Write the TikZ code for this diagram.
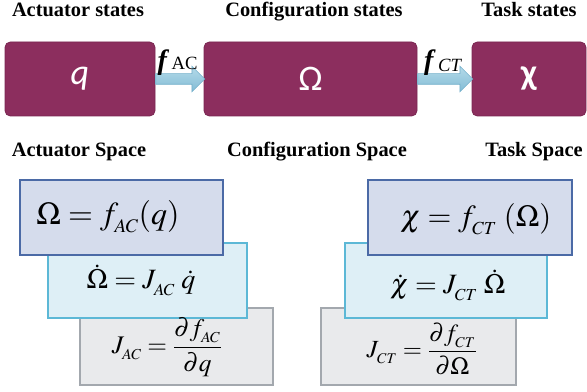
\documentclass[tikz,border=0pt]{standalone}
\usepackage{amsmath}
\usepackage{mathptmx}
\usepackage[no-math]{fontspec}
\setmainfont{Liberation Serif}
\newfontfamily\headfont{Liberation Serif}
\newfontfamily\boxfont{Carlito}
\usetikzlibrary{positioning,calc,shapes.arrows}
\definecolor{StateFill}{HTML}{8C2E5E}
\definecolor{StateEdge}{HTML}{7A2651}
\definecolor{MapTop}{HTML}{B5DAE9}
\definecolor{MapBottom}{HTML}{82BCD5}
\definecolor{MapEdge}{HTML}{74B0CB}
\definecolor{PosFill}{HTML}{D5DCEC}
\definecolor{PosEdge}{HTML}{4B6AA6}
\definecolor{VelFill}{HTML}{DEEFF6}
\definecolor{VelEdge}{HTML}{5CB8D6}
\definecolor{JacFill}{HTML}{E9EAEC}
\definecolor{JacEdge}{HTML}{A3A8AE}
% small lowered subscript, as the equation editor sets it
\newcommand{\lsub}[1]{_{\lower0.1em\hbox{$\scriptscriptstyle #1$}}}
\begin{document}
\begin{tikzpicture}[x=0.75pt, y=-0.75pt,
  state/.style={draw=StateEdge, fill=StateFill, line width=0.6pt, rounded corners=4pt, minimum height=55.5pt, text=white, font=\boxfont\fontsize{27}{30}\selectfont},
  head/.style={font=\headfont\bfseries\fontsize{15.3}{17}\selectfont, inner sep=0pt, anchor=base},
  map/.style={single arrow, draw=MapEdge, top color=MapTop, bottom color=MapBottom, line width=0.5pt, minimum height=#1, inner xsep=0pt, inner ysep=3.75pt, single arrow head extend=5.6pt, anchor=tail},
  maplabel/.style={font=\headfont\fontsize{21}{21}\selectfont, label distance=-5pt},
  eqbox/.style={draw=#1Edge, fill=#1Fill, line width=1.1pt},
  eqtext/.style={inner sep=0pt, font=\fontsize{#1}{#1}\selectfont},
]
\useasboundingbox (0,0) rectangle (587,392);
% state boxes
\node[state, minimum width=112.5pt] (q) at (80,79) {\itshape q};
\node[state, minimum width=159.75pt] (om) at (310.5,79) {Ω};
\node[state, minimum width=85.5pt] (chi) at (529,79) {\bfseries χ};
\node[map=36.75pt, label={[maplabel]above:{{\bfseries\itshape f}\,{\fontsize{14}{14}\selectfont AC}}}] (fac) at (q.east) {};
\node[map=41.25pt, label={[maplabel]above:{{\bfseries\itshape f}\,\raisebox{-2pt}{\fontsize{14}{14}\selectfont\itshape CT}}}] (fct) at (om.east) {};
% headings
\node[head] (hq) at (78,17) {Actuator states};
\node[head] (hom) at (314,17) {Configuration states};
\node[head] (hchi) at (529,17) {Task states};
\node[head] (sq) at (79,157) {Actuator Space};
\node[head] (som) at (317,157) {Configuration Space};
\node[head] (schi) at (534,157) {Task Space};
% actuator to configuration
\node[eqbox=Jac, minimum width=144.75pt, minimum height=57.75pt] (ajac) at (176.5,346.5) {};
\node[eqbox=Vel, minimum width=149.25pt, minimum height=56.25pt] (avel) at (147.5,280.5) {};
\node[eqbox=Pos, minimum width=152.25pt, minimum height=56.25pt] (apos) at (121.5,217.5) {};
\node[eqtext=24, anchor=base] (aposeq) at (108,225) {$\Omega = f\lsub{AC}(q)$};
\node[eqtext=21, anchor=base] (avelq) at (141,289) {$\dot{\Omega} = J\lsub{AC}\;\dot{q}$};
\node[eqtext=19] (ajaceq) at (167,347) {$J\lsub{AC} = \dfrac{\partial f\lsub{AC}}{\partial q}$};
% configuration to task
\node[eqbox=Jac, minimum width=146.25pt, minimum height=57.75pt] (bjac) at (418.5,346.5) {};
\node[eqbox=Vel, minimum width=151.5pt, minimum height=56.25pt] (bvel) at (446,280.5) {};
\node[eqbox=Pos, minimum width=153pt, minimum height=56.25pt] (bpos) at (470,217.5) {};
\node[eqtext=23, anchor=base] (bposeq) at (476,227) {$\chi = f\lsub{CT}\;(\Omega)$};
\node[eqtext=21, anchor=base] (bveleq) at (448,294) {$\dot{\chi} = J\lsub{CT}\;\dot{\Omega}$};
\node[eqtext=18.5] (bjaceq) at (422,349) {$J\lsub{CT} = \dfrac{\partial f\lsub{CT}}{\partial\Omega}$};
\end{tikzpicture}
\end{document}
